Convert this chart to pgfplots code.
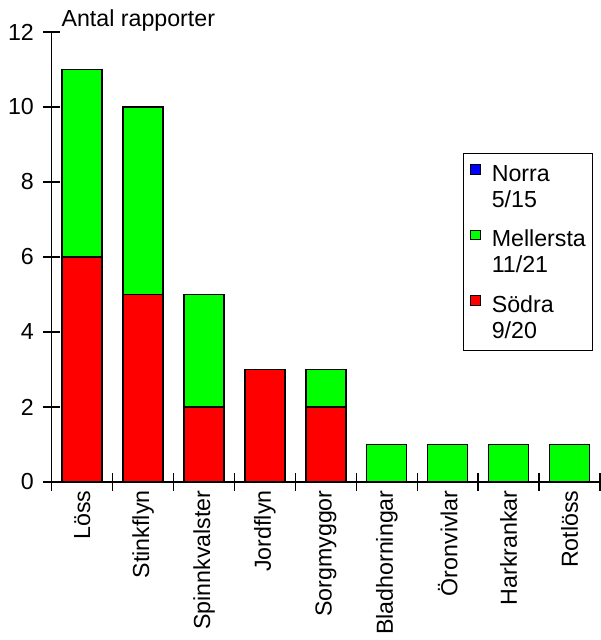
\documentclass[border=0pt]{standalone}
\usepackage{pgfplots}
\pgfplotsset{compat=1.18}
\usepackage{pgfplotstable}
\usepackage{fontspec}
\setmainfont{Liberation Sans}

\definecolor{norra}{RGB}{0,0,255}
\definecolor{mellersta}{RGB}{0,255,0}
\definecolor{sodra}{RGB}{255,0,0}

% Antal rapporter per skadegörare och region
\pgfplotstableread{
idx sodra mellersta
0   6     5
1   5     5
2   2     3
3   3     0
4   2     1
5   0     1
6   0     1
7   0     1
8   0     1
}\rapporter

\newcommand\lbl{\fontsize{11.6}{13}\selectfont}
\newcommand\entry[2]{\begin{tabular}[t]{@{}l@{}}\rule{0pt}{11.55pt}#1\\#2\end{tabular}}

% square legend symbol beside the first text line
\pgfplotsset{
  sqlegend/.style={
    legend image code/.code={
      \draw[##1, line width=0.5pt] (0pt,3.4pt) rectangle (4.7pt,8.1pt);}
  }
}

\begin{document}
\begin{tikzpicture}
\useasboundingbox (0,0) rectangle (300pt,320pt);
\begin{axis}[
  at={(25.85pt,79pt)}, anchor=south west,
  scale only axis, width=274.15pt, height=225pt,
  xmin=-0.5, xmax=8.5, ymin=0, ymax=12,
  enlargelimits=false,
  axis lines=left,
  axis line style={-, line width=0.8pt, black},
  ybar stacked, bar width=0.656,
  every axis plot post/.append style={sqlegend},
  xtick={0,...,8},
  xticklabels={Löss,Stinkflyn,Spinnkvalster,Jordflyn,Sorgmyggor,Bladhorningar,Öronvivlar,Harkrankar,Rotlöss},
  minor xtick={-0.5,0.5,...,8.5},
  ytick={0,2,...,12},
  minor ytick={0,2,...,12},
  tick align=center,
  major tick length=0pt,
  minor tick length=8.5pt,
  every tick/.style={line width=0.7pt, black},
  /pgf/number format/assume math mode=true,
  yticklabel style={font=\lbl, anchor=east, inner sep=0pt, xshift=-8.7pt},
  xticklabel style={font=\lbl, yshift=-4pt, rotate=90, anchor=east, inner sep=0pt},
  ylabel={Antal rapporter},
  every axis y label/.style={at={(axis description cs:0,1)}, anchor=base west,
    inner sep=0pt, xshift=4.75pt, yshift=2.5pt, font=\lbl},
  legend cell align=left,
  legend style={at={(0.7496,0.7318)}, anchor=north west, draw=black,
    line width=0.5pt, font=\lbl, inner xsep=3.5pt, inner ysep=2.45pt,
    row sep=4.3pt, column sep=5.6pt,
    nodes={inner sep=0pt, text depth=}, cells={anchor=base west}},
  reverse legend,
]
\addplot[fill=sodra, draw=black, line width=0.7pt, sqlegend]
  table[x=idx, y=sodra] {\rapporter};
\addlegendentry{\entry{Södra}{9/20}}
\addplot[fill=mellersta, draw=black, line width=0.7pt, sqlegend]
  table[x=idx, y=mellersta] {\rapporter};
\addlegendentry{\entry{Mellersta}{11/21}}
\addlegendimage{fill=norra, draw=black, sqlegend}
\addlegendentry{\entry{Norra}{5/15}}
\end{axis}
\end{tikzpicture}
\end{document}
